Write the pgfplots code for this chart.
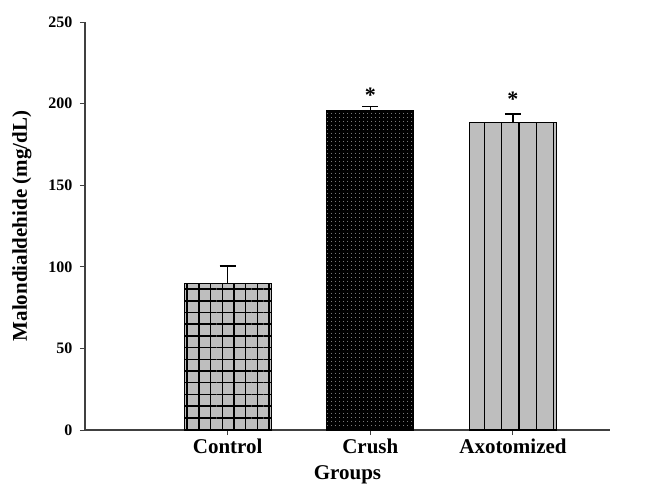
\documentclass[border=0pt]{standalone}
\usepackage{fontspec}
\setmainfont{Liberation Serif}
\usepackage{pgfplots}
\pgfplotsset{compat=1.18}
\usetikzlibrary{patterns.meta}
\definecolor{barg}{RGB}{190,190,190}
\begin{document}
\begin{tikzpicture}
\useasboundingbox (-85pt,-58pt) rectangle (560pt,430pt);
\begin{axis}[
 at={(0,0)}, anchor=south west,
 scale only axis, width=525pt, height=408pt,
 xmin=0, xmax=3.68, ymin=0, ymax=250,
 axis x line*=bottom, axis y line*=left,
 axis line style={line width=1.2pt, black!75},
 xtick={1,2,3}, xticklabels={Control,Crush,Axotomized},
 ytick={0,50,...,250},
 tick align=outside, major tick length=5pt,
 tick style={line width=1pt, black!75},
 yticklabel style={font=\fontsize{16}{18}\selectfont\bfseries, xshift=-4pt},
 xticklabel style={font=\fontsize{21}{24}\selectfont\bfseries},
 /pgf/number format/assume math mode=true,
 ylabel={Malondialdehide (mg/dL)}, xlabel={Groups},
 label style={font=\fontsize{21}{24}\selectfont\bfseries},
 xlabel style={yshift=-5pt},
 ylabel style={yshift=10pt},
 ybar, bar width=0.61, bar shift=0pt,
 error bars/error bar style={line width=1.5pt,black},
 error bars/error mark options={rotate=90, line width=1.5pt, mark size=8pt, black},
]
\addplot[draw=black, line width=1.2pt, fill=barg,
  postaction={pattern={Lines[angle=90,distance=11.7pt,line width=1.5pt]}},
  postaction={pattern={Lines[angle=0,distance=11.7pt,line width=1.5pt]}},
  error bars/.cd, y dir=plus, y explicit]
 coordinates {(1,90) +- (0,10.5)};
\addplot[draw=black, line width=1.2pt, fill=black,
  postaction={pattern={Dots[distance=4pt,radius=0.6pt]}, pattern color=black!35},
  error bars/.cd, y dir=plus, y explicit]
 coordinates {(2,195.5) +- (0,2.8)};
\addplot[draw=black, line width=1.2pt, fill=barg,
  postaction={pattern={Lines[angle=90,distance=17.3pt,line width=1.5pt]}},
  error bars/.cd, y dir=plus, y explicit]
 coordinates {(3,188.5) +- (0,5)};
\addplot[draw=none, fill=none, nodes near coords={*},
  every node near coord/.style={anchor=center, font=\fontsize{22}{24}\selectfont\bfseries}]
 coordinates {(2,205) (3,202.5)};
\end{axis}
\end{tikzpicture}
\end{document}
